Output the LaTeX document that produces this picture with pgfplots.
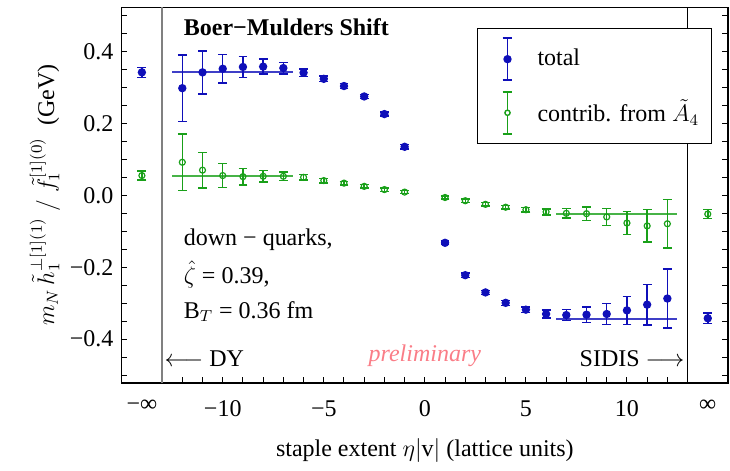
\documentclass[border=0pt]{standalone}
\usepackage{fontspec}
\setmainfont{Liberation Serif}
\usepackage{pgfplots}
\usepackage{pgfplotstable}
\pgfplotsset{compat=1.18}
\definecolor{cblue}{RGB}{15,15,185}
\definecolor{cgreen}{RGB}{25,160,25}
\definecolor{cpink}{RGB}{250,125,135}
\pgfplotsset{
 legblue/.style={legend image code/.code={%
   \draw[draw=cblue, line width=0.8pt] (9pt,-10.5pt) -- (9pt,10.5pt) (6.6pt,-10.5pt) -- (11.4pt,-10.5pt) (6.6pt,10.5pt) -- (11.4pt,10.5pt);
   \path[draw=none] (0pt,0pt) -- (24pt,0pt);
   \fill[fill=cblue] (9pt,0pt) circle (1.7pt);}},
 leggreen/.style={legend image code/.code={%
   \draw[draw=cgreen, line width=0.8pt] (9pt,-10.5pt) -- (9pt,10.5pt) (6.6pt,-10.5pt) -- (11.4pt,-10.5pt) (6.6pt,10.5pt) -- (11.4pt,10.5pt);
   \path[draw=none] (0pt,0pt) -- (24pt,0pt);
   \draw[draw=cgreen, line width=0.7pt, fill=white] (9pt,0pt) circle (1.3pt);}},
}
\pgfplotstableread{
x y e
-14 0.342 0.014
-12 0.298 0.092
-11 0.342 0.060
-10 0.352 0.040
-9 0.357 0.029
-8 0.358 0.021
-7 0.354 0.016
-6 0.341 0.011
-5 0.324 0.008
-4 0.304 0.007
-3 0.275 0.006
-2 0.226 0.006
-1 0.135 0.006
1 -0.132 0.005
2 -0.222 0.006
3 -0.270 0.006
4 -0.299 0.007
5 -0.318 0.008
6 -0.330 0.011
7 -0.333 0.015
8 -0.332 0.021
9 -0.330 0.029
10 -0.320 0.039
11 -0.304 0.056
12 -0.287 0.082
14 -0.342 0.015
}\total
\pgfplotstableread{
x y e
-14 0.055 0.012
-12 0.092 0.078
-11 0.070 0.049
-10 0.055 0.033
-9 0.052 0.023
-8 0.053 0.016
-7 0.053 0.012
-6 0.050 0.008
-5 0.041 0.006
-4 0.034 0.005
-3 0.025 0.005
-2 0.016 0.005
-1 0.009 0.004
1 -0.006 0.004
2 -0.015 0.005
3 -0.025 0.005
4 -0.033 0.005
5 -0.040 0.006
6 -0.046 0.008
7 -0.050 0.013
8 -0.051 0.019
9 -0.060 0.024
10 -0.077 0.032
11 -0.085 0.045
12 -0.079 0.067
14 -0.052 0.012
}\contrib
\begin{document}
\fontsize{12}{14.4}\selectfont
\begin{tikzpicture}
\begin{axis}[
 scale only axis, width=303.2pt, height=187.9pt,
 xmin=-15, xmax=15, ymin=-0.522, ymax=0.523,
 xtick={-14,-10,-5,0,5,10,14},
 xticklabels={−∞,−10,−5,0,5,10,∞},
 minor xtick={-12,-11,...,12},
 major x tick style={draw=none},
 xtick pos=left,
 xticklabel style={yshift=-4.5pt},
 ytick={-0.4,-0.2,0,0.2,0.4},
 yticklabels={−0.4,−0.2,0.0,0.2,0.4},
 minor ytick={-0.5,-0.45,...,0.5},
 tick align=inside, major tick length=2.5pt, minor tick length=2.8pt,
 tick style={black, line width=0.5pt},
 axis line style={black, line width=0.6pt},
 xlabel={staple extent $\eta|\mathrm{v}|$ (lattice units)},
 ylabel={$m_N\,\tilde{h}_1^{\perp[1](1)}\;/\;\tilde{f}_1^{[1](0)}$\ \ (GeV)},
 xlabel style={at={(axis description cs:0.5,-0.1783)}, anchor=center},
 ylabel style={at={(axis description cs:-0.1263,0.5)}, anchor=center},
 legend style={at={(axis cs:14.2,0.466)}, anchor=north east, draw=black, fill=white,
   line width=0.6pt, inner xsep=6pt, inner ysep=4.5pt, row sep=5pt, nodes={inner sep=0pt}},
 legend cell align=left,
]
\addplot[cblue, line width=1pt, opacity=0.8, forget plot] coordinates {(-12.5,0.342) (-6.5,0.342)};
\addplot[cblue, line width=1pt, opacity=0.8, forget plot] coordinates {(6.5,-0.343) (12.5,-0.343)};
\addplot[cgreen, line width=1pt, opacity=0.8, forget plot] coordinates {(-12.5,0.054) (-6.5,0.054)};
\addplot[cgreen, line width=1pt, opacity=0.8, forget plot] coordinates {(6.5,-0.053) (12.5,-0.053)};
\draw[gray, line width=0.8pt] (axis cs:-13,-0.522) -- (axis cs:-13,0.523);
\draw[black, line width=0.6pt] (axis cs:13,-0.522) -- (axis cs:13,0.523);

\addplot[cblue, only marks, mark=*, mark size=1.7pt, line width=0.75pt, legblue,
  error bars/.cd, y dir=both, y explicit,
  error bar style={line width=0.75pt},
  error mark options={rotate=90, mark size=2.2pt, line width=0.75pt}]
  table[x=x, y=y, y error=e] {\total};
\addlegendentry{total}
\addplot[cgreen, only marks, mark=o, mark size=1.5pt, mark options={line width=0.6pt}, line width=0.75pt, leggreen,
  error bars/.cd, y dir=both, y explicit,
  error bar style={line width=0.75pt},
  error mark options={rotate=90, mark size=2.2pt, line width=0.75pt}]
  table[x=x, y=y, y error=e] {\contrib};
\addlegendentry{contrib. from $\tilde{A}_4$\hspace{12pt}}

\node[anchor=base west, inner sep=0pt, font=\bfseries] at (axis cs:-11.94,0.4437) {Boer−Mulders Shift};
\node[anchor=base west, inner sep=0pt] at (axis cs:-11.94,-0.1405) {down − quarks,};
\node[anchor=base west, inner sep=0pt] at (axis cs:-11.94,-0.246) {$\hat{\zeta}$ = 0.39,};
\node[anchor=base west, inner sep=0pt] at (axis cs:-11.94,-0.3416) {B$_T$ = 0.36 fm};
\node[anchor=base west, inner sep=0pt] at (axis cs:-12.89,-0.476) {$\longleftarrow$ DY};
\node[anchor=base east, inner sep=0pt] at (axis cs:12.86,-0.476) {SIDIS $\longrightarrow$};
\node[anchor=base, inner sep=0pt, font=\itshape, text=cpink] at (axis cs:0,-0.462) {preliminary};
\end{axis}
\path (current axis.south west) ++(-60.85pt,-39.5pt);
\path (current axis.north east) ++(1pt,3.65pt);
\end{tikzpicture}
\end{document}
